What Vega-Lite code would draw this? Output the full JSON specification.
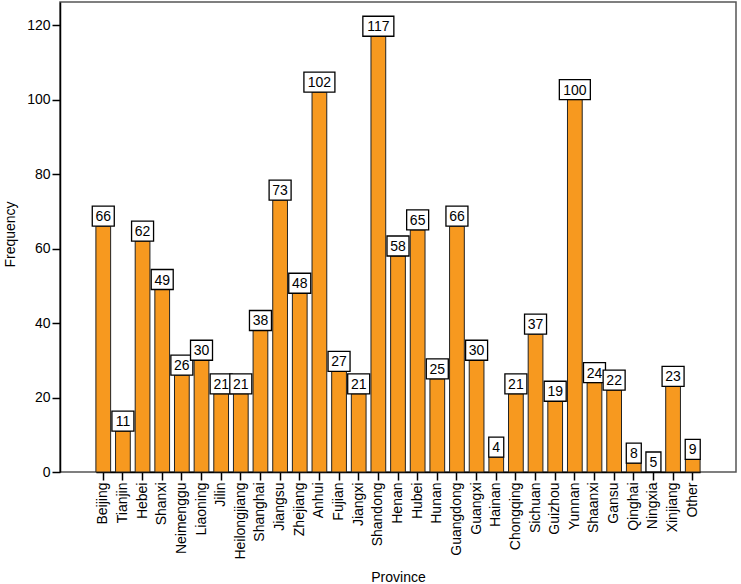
{
  "$schema": "https://vega.github.io/schema/vega-lite/v6.json",
  "width": 676,
  "height": 470,
  "autosize": {"type": "none"},
  "padding": {"left": 60, "top": 2, "right": 5, "bottom": 112},
  "background": "white",
  "config": {
    "view": {"stroke": "#555555", "strokeWidth": 1.5},
    "font": "Liberation Sans"
  },
  "data": {
    "values": [
      {"Province": "Beijing", "Frequency": 66, "Height": 66},
      {"Province": "Tianjin", "Frequency": 11, "Height": 11},
      {"Province": "Hebei", "Frequency": 62, "Height": 62},
      {"Province": "Shanxi", "Frequency": 49, "Height": 49},
      {"Province": "Neimenggu", "Frequency": 26, "Height": 26},
      {"Province": "Liaoning", "Frequency": 30, "Height": 30},
      {"Province": "Jilin", "Frequency": 21, "Height": 21},
      {"Province": "Heilongjiang", "Frequency": 21, "Height": 21},
      {"Province": "Shanghai", "Frequency": 38, "Height": 38},
      {"Province": "Jiangsu", "Frequency": 73, "Height": 73},
      {"Province": "Zhejiang", "Frequency": 48, "Height": 48},
      {"Province": "Anhui", "Frequency": 102, "Height": 102},
      {"Province": "Fujian", "Frequency": 27, "Height": 27},
      {"Province": "Jiangxi", "Frequency": 21, "Height": 21},
      {"Province": "Shandong", "Frequency": 117, "Height": 117},
      {"Province": "Henan", "Frequency": 58, "Height": 58},
      {"Province": "Hubei", "Frequency": 65, "Height": 65},
      {"Province": "Hunan", "Frequency": 25, "Height": 25},
      {"Province": "Guangdong", "Frequency": 66, "Height": 66},
      {"Province": "Guangxi", "Frequency": 30, "Height": 30},
      {"Province": "Hainan", "Frequency": 4, "Height": 4},
      {"Province": "Chongqing", "Frequency": 21, "Height": 21},
      {"Province": "Sichuan", "Frequency": 37, "Height": 37},
      {"Province": "Guizhou", "Frequency": 19, "Height": 19},
      {"Province": "Yunnan", "Frequency": 100, "Height": 100},
      {"Province": "Shaanxi", "Frequency": 24, "Height": 24},
      {"Province": "Gansu", "Frequency": 22, "Height": 22},
      {"Province": "Qinghai", "Frequency": 8, "Height": 2.4},
      {"Province": "Ningxia", "Frequency": 5, "Height": 0},
      {"Province": "Xinjiang", "Frequency": 23, "Height": 23},
      {"Province": "Other", "Frequency": 9, "Height": 3.4}
    ]
  },
  "encoding": {
    "x": {
      "field": "Province",
      "type": "nominal",
      "sort": null,
      "scale": {"paddingInner": 0.25, "paddingOuter": 0, "range": [35.9, 640.1]},
      "axis": {
        "title": "Province",
        "titleFontSize": 14,
        "titleFontWeight": "normal",
        "titleColor": "black",
        "titleY": 105,
        "titleBaseline": "middle",
        "labelAngle": 270,
        "labelAlign": "right",
        "labelBaseline": "middle",
        "labelFontSize": 14,
        "labelColor": "black",
        "labelPadding": 2,
        "tickSize": 8,
        "tickColor": "black",
        "tickWidth": 1.5,
        "domainColor": "black",
        "domainWidth": 1.5
      }
    }
  },
  "layer": [
    {
      "mark": {"type": "bar", "color": "#F7991F", "stroke": "#222222", "strokeWidth": 1},
      "encoding": {
        "y": {
          "field": "Height",
          "type": "quantitative",
          "scale": {"domain": [0, 126.2], "nice": false, "zero": true},
          "axis": {
            "title": "Frequency",
            "titleFontSize": 14,
            "titleFontWeight": "normal",
            "titleColor": "black",
            "titleX": -50,
            "titleY": 232,
            "titleAngle": 270,
            "titleAlign": "center",
            "titleBaseline": "middle",
            "values": [0, 20, 40, 60, 80, 100, 120],
            "grid": false,
            "labelFontSize": 14,
            "labelColor": "black",
            "labelPadding": 2,
            "tickSize": 8,
            "tickColor": "black",
            "tickWidth": 1.5,
            "domainColor": "black",
            "domainWidth": 1.5
          }
        }
      }
    },
    {
      "mark": {
        "type": "point",
        "filled": true,
        "fill": "white",
        "stroke": "black",
        "strokeWidth": 1.3,
        "opacity": 1,
        "size": 400,
        "yOffset": -10
      },
      "encoding": {
        "y": {"field": "Height", "type": "quantitative"},
        "shape": {
          "condition": [
            {"test": "datum.Frequency >= 100", "value": "M-1.55,-1H1.55V1H-1.55Z"},
            {"test": "datum.Frequency < 10", "value": "M-0.75,-1H0.75V1H-0.75Z"}
          ],
          "value": "M-1.1,-1H1.1V1H-1.1Z"
        }
      }
    },
    {
      "mark": {"type": "text", "fontSize": 14, "dy": -9, "baseline": "middle", "align": "center", "color": "black"},
      "encoding": {
        "y": {"field": "Height", "type": "quantitative"},
        "text": {"field": "Frequency", "type": "quantitative"}
      }
    }
  ]
}
